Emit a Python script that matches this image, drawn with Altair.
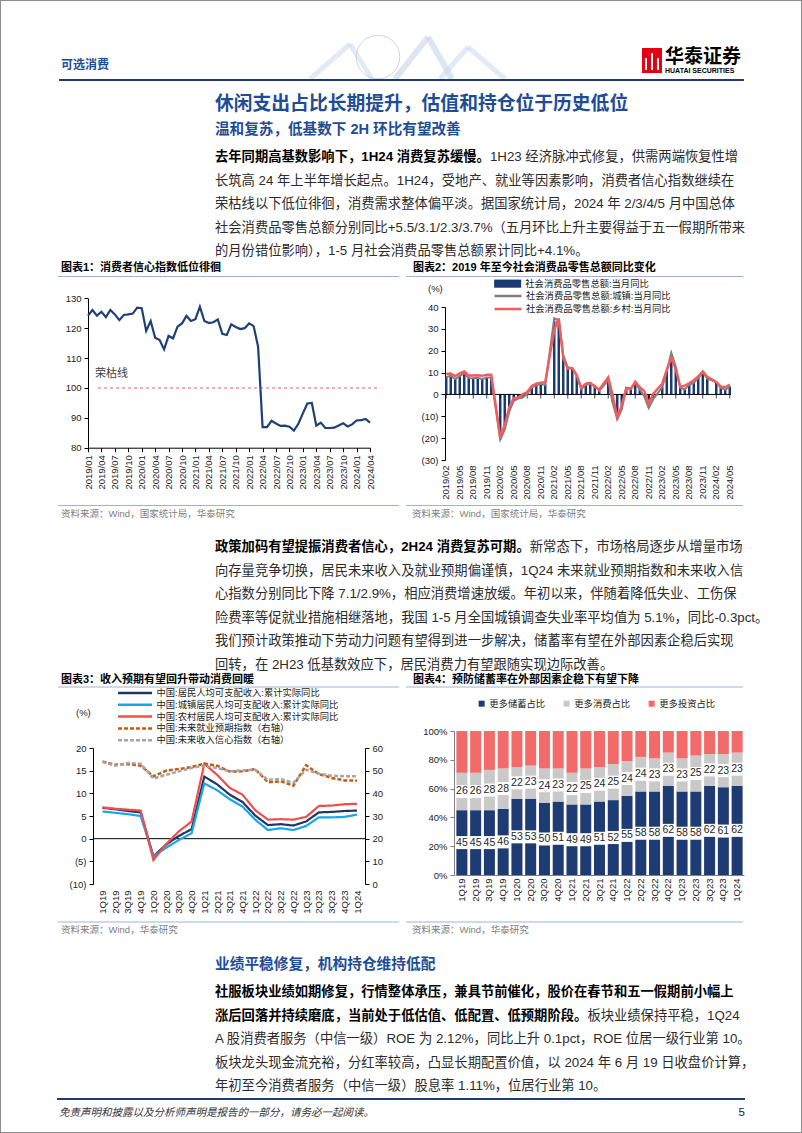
import altair as alt
import pandas as pd

W, H = 802, 1133
FONT = "Liberation Sans, Noto Sans CJK SC, sans-serif"
BLUE_T = "#1E4C96"
NAVY_RULE = "#1F3C78"
LIGHT_RULE = "#9DB5D3"
TXT = "#2b2b2b"

# ---------------- data ----------------
# Chart 1: consumer confidence index, 2019/01 - 2024/04
cci_months = [f"{y}/{m:02d}" for y in range(2019, 2025) for m in range(1, 13)][:64]
cci_values = [124.2, 126.1, 124.2, 125.5, 123.7, 126.1, 124.6, 122.7, 124.4, 124.6, 124.9, 126.9,
              126.7, 119.1, 122.4, 116.8, 116.0, 112.9, 117.4, 116.6, 120.5, 121.6, 124.1, 122.4,
              123.0, 127.2, 122.4, 121.7, 122.0, 122.9, 118.1, 117.7, 121.3, 120.4, 119.7, 120.0,
              121.6, 120.7, 113.8, 86.9, 86.9, 89.0, 88.1, 87.3, 87.4, 87.0, 85.7, 88.0,
              91.5, 94.8, 95.0, 87.4, 88.4, 86.6, 86.6, 86.7, 87.4, 88.2, 87.1, 87.8,
              89.1, 89.2, 89.6, 88.4]

# Chart 2: retail sales yoy, 2019/02 - 2024/05 (January not published)
ret_months = [f"{y}/{m:02d}" for y in range(2019, 2025) for m in range(1, 13)][1:65]
ret_total = [8.2, 8.7, 7.2, 8.6, 9.8, 7.6, 7.5, 7.8, 7.2, 8.0, 8.0,
             None, -20.5, -15.8, -7.5, -2.8, -1.8, -1.1, 0.5, 3.3, 4.3, 5.0, 4.6,
             None, 33.8, 34.2, 17.7, 12.4, 12.1, 8.5, 2.5, 4.4, 4.9, 3.9, 1.7,
             None, 6.7, -3.5, -11.1, -6.7, 3.1, 2.7, 5.4, 2.5, -0.5, -5.9, -1.8,
             None, 3.5, 10.6, 18.4, 12.7, 3.1, 2.5, 4.6, 5.5, 7.6, 10.1, 7.4,
             None, 5.5, 3.1, 2.3, 3.7]
ret_urban = [8.0, 8.5, 7.0, 8.4, 9.7, 7.5, 7.4, 7.6, 7.0, 7.8, 7.8,
             None, -20.7, -16.1, -7.8, -3.0, -1.9, -1.4, 0.3, 3.2, 4.2, 4.9, 4.3,
             None, 34.9, 33.9, 17.9, 12.5, 12.0, 8.4, 2.4, 4.4, 4.8, 4.0, 1.6,
             None, 6.5, -4.0, -11.3, -7.0, 3.1, 2.8, 5.1, 2.3, -0.9, -6.2, -2.2,
             None, 3.3, 10.5, 19.1, 12.8, 3.1, 2.3, 4.5, 5.3, 7.5, 10.0, 7.3,
             None, 5.5, 3.0, 2.2, 3.4]
ret_rural = [9.3, 9.6, 8.4, 9.6, 10.5, 8.7, 8.7, 8.8, 8.5, 9.0, 9.0,
             None, -19.5, -14.0, -5.9, -1.7, -1.5, 0.1, 1.1, 3.9, 4.9, 5.4, 5.6,
             None, 29.5, 34.8, 16.6, 11.8, 12.1, 8.8, 3.0, 4.9, 5.3, 3.5, 2.3,
             None, 7.8, -0.6, -10.5, -5.0, 2.8, 2.4, 5.8, 3.3, 1.5, -4.2, 0.3,
             None, 4.9, 11.2, 16.8, 11.5, 3.4, 4.0, 5.1, 6.5, 8.2, 10.5, 8.1,
             None, 5.7, 3.6, 3.3, 4.5]

# Chart 3: income growth & expectation indices, 1Q19 - 1Q24
quarters = [f"{q}Q{y}" for y in range(19, 25) for q in range(1, 5)][:21]
inc_all = [6.8, 6.5, 6.1, 5.8, -3.9, -1.3, 0.6, 2.1, 13.7, 12.0, 9.7, 8.1, 5.1, 3.0, 3.2, 2.9, 3.8, 5.8, 5.9, 6.1, 6.2]
inc_urban = [6.0, 5.7, 5.4, 5.0, -3.9, -2.0, -0.3, 1.2, 12.2, 10.7, 8.7, 7.1, 4.2, 1.9, 2.3, 1.9, 2.8, 4.7, 4.7, 4.8, 5.3]
inc_rural = [6.9, 6.6, 6.4, 6.2, -4.7, -1.2, 1.6, 3.8, 16.5, 14.1, 11.2, 9.7, 6.3, 4.2, 4.3, 4.2, 4.8, 7.2, 7.3, 7.6, 7.7]
job_exp = [54.1, 52.6, 52.9, 52.2, 47.5, 50.0, 50.7, 51.6, 53.1, 52.2, 49.6, 49.7, 50.7, 44.9, 45.3, 43.4, 52.4, 48.5, 46.8, 45.7, 45.6]
inc_conf = [53.8, 52.2, 53.4, 53.1, 46.5, 48.2, 49.7, 51.2, 52.2, 51.2, 49.7, 50.1, 50.4, 46.0, 46.3, 44.6, 50.4, 48.7, 47.8, 47.5, 47.5]

# Chart 4: saving / consumption / investment preference shares
save_share = [45, 45, 45, 46, 53, 53, 50, 51, 49, 49, 51, 52, 55, 58, 58, 62, 58, 58, 62, 61, 62]
consume_share = [26, 26, 28, 28, 22, 23, 24, 23, 22, 25, 24, 25, 24, 24, 23, 23, 23, 25, 22, 23, 23]
invest_share = [29, 29, 27, 26, 25, 24, 26, 26, 29, 26, 25, 23, 21, 18, 19, 15, 19, 17, 16, 16, 15]

# ---------------- helpers ----------------
def tw(s, size, bold=False):
    w = 0.0
    for ch in s:
        o = ord(ch)
        if o >= 0x2E80:
            w += 1.0
        elif ch == ' ':
            w += 0.278
        elif ch.isdigit():
            w += 0.556
        elif ch in './:,;':
            w += 0.333 if bold else 0.278
        elif ch == '-':
            w += 0.333
        elif ch == '%':
            w += 0.889
        elif ch == '+':
            w += 0.584
        elif ch.isupper():
            w += 0.722 if bold else 0.667
        else:
            w += 0.611 if bold else 0.556
    return w * size


def text_layer(s, x, y, size, color=TXT, weight='normal', align='left', style='normal', baseline='middle'):
    return alt.Chart(pd.DataFrame({'t': [s]})).mark_text(
        align=align, baseline=baseline, font=FONT, fontSize=size, fontWeight=weight,
        fontStyle=style, color=color).encode(x=alt.value(x), y=alt.value(y), text='t:N')


def hrule(x1, x2, y, color, width=1.0):
    return alt.Chart(pd.DataFrame({'a': [0]})).mark_rule(color=color, strokeWidth=width).encode(
        x=alt.value(x1), x2=alt.value(x2), y=alt.value(y))


def seg(x1, y1, x2, y2, color, width=1.0, opacity=1.0):
    return alt.Chart(pd.DataFrame({'a': [0]})).mark_rule(color=color, strokeWidth=width, opacity=opacity).encode(
        x=alt.value(x1), x2=alt.value(x2), y=alt.value(y1), y2=alt.value(y2))


def box(x1, x2, y1, y2, color):
    return alt.Chart(pd.DataFrame({'a': [0]})).mark_rect(color=color).encode(
        x=alt.value(x1), x2=alt.value(x2), y=alt.value(y1), y2=alt.value(y2))


def paragraph(lines, x, y0, step, size):
    out = []
    for i, segs in enumerate(lines):
        y = y0 + i * step
        cx = x
        for s, bold in segs:
            out.append(text_layer(s, cx, y, size, color='#000' if bold else TXT,
                                  weight='bold' if bold else 'normal'))
            cx += tw(s, size, bold)
    return out


def ax(**kw):
    base = dict(title=None, grid=False, labelFont=FONT, labelFontSize=9.5, labelColor='#1a1a1a',
                domainColor='#000', tickColor='#000', tickSize=4, labelPadding=3,
                labelOverlap=False, labelFlush=False)
    base.update(kw)
    return alt.Axis(**base)


NEG = "datum.value < 0 ? '(' + abs(datum.value) + ')' : datum.value"

# ---------------- chart 1 ----------------
d1 = pd.DataFrame({'m': cci_months, 'v': cci_values})
X1 = alt.X('m:N', sort=None,
           scale=alt.Scale(type='point', domain=cci_months, range=[88, 370], padding=0),
           axis=ax(orient='bottom', offset=447.7 - H, values=cci_months[::3], labelAngle=270))
Y1 = alt.Y('v:Q', scale=alt.Scale(domain=[80, 130], range=[447.7, 298.3], nice=False, zero=False),
           axis=ax(orient='left', offset=-88, values=[80, 90, 100, 110, 120, 130]))
c1_ref = alt.Chart(pd.DataFrame({'v': [100]})).mark_rule(color='#E06666', strokeDash=[3, 3], strokeWidth=1).encode(
    y=Y1, x=alt.value(98), x2=alt.value(378))
c1_line = alt.Chart(d1).mark_line(color='#1F3F77', strokeWidth=2.2).encode(x=X1, y=Y1)
chart1 = alt.layer(c1_ref, c1_line)

# ---------------- chart 2 ----------------
S_TOT = '社会消费品零售总额:当月同比'
S_URB = '社会消费品零售总额:城镇:当月同比'
S_RUR = '社会消费品零售总额:乡村:当月同比'
bar_df = pd.DataFrame({'m': ret_months, 'v': ret_total, 's': S_TOT}).dropna()
urb_df = pd.DataFrame({'m': ret_months, 'v': ret_urban, 's': S_URB}).dropna()
rur_df = pd.DataFrame({'m': ret_months, 'v': ret_rural, 's': S_RUR}).dropna()
X2 = alt.X('m:N', sort=None,
           scale=alt.Scale(type='band', domain=ret_months, range=[445, 731], paddingInner=0.45, paddingOuter=0),
           axis=ax(orient='bottom', offset=462 - H, values=ret_months[::3], labelAngle=270,
                   domain=False, ticks=False))
Y2 = alt.Y('v:Q', scale=alt.Scale(domain=[-30, 40], range=[460, 307], nice=False, zero=False),
           axis=ax(orient='left', offset=-445, values=list(range(-30, 41, 10)), labelExpr=NEG))
leg_common = dict(orient='none', title=None, labelFont=FONT, labelFontSize=9.3, labelColor='#1a1a1a',
                  labelLimit=400, padding=0)
leg2a = alt.Legend(legendX=503, legendY=279, symbolType='M-4,-1.2H4V1.2H-4Z', symbolSize=45.6,
                   labelOffset=13, symbolStrokeWidth=0, **leg_common)
leg2b = alt.Legend(legendX=503, legendY=291, symbolType='M-4,0H4', symbolSize=45.6,
                   symbolStrokeWidth=2.5, labelOffset=13, rowPadding=2, **leg_common)
stroke2 = alt.Scale(domain=[S_URB, S_RUR], range=['#7F7F7F', '#F25C5E'])
c2_bar = alt.Chart(bar_df).mark_bar().encode(
    x=X2, y=Y2, y2=alt.datum(0),
    fill=alt.Fill('s:N', scale=alt.Scale(domain=[S_TOT], range=['#1B3A72']), legend=leg2a))
c2_zero = alt.Chart(pd.DataFrame({'v': [0]})).mark_rule(color='#000', strokeWidth=1).encode(
    y=Y2, x=alt.value(445), x2=alt.value(731))
c2_ticks = alt.Chart(pd.DataFrame({'m': ret_months[::3], 'v': [0] * len(ret_months[::3])})).mark_tick(
    orient='vertical', size=4, thickness=1, color='#000', yOffset=2).encode(x=X2, y=Y2)
c2_urb = alt.Chart(urb_df).mark_line(strokeWidth=2).encode(
    x=X2, y=Y2, stroke=alt.Stroke('s:N', scale=stroke2, legend=leg2b))
c2_rur = alt.Chart(rur_df).mark_line(strokeWidth=2.5).encode(
    x=X2, y=Y2, stroke=alt.Stroke('s:N', scale=stroke2, legend=leg2b))
chart2 = alt.layer(c2_bar, c2_zero, c2_ticks, c2_urb, c2_rur)

# ---------------- chart 3 ----------------
S3 = ['中国:居民人均可支配收入:累计实际同比', '中国:城镇居民人均可支配收入:累计实际同比',
      '中国:农村居民人均可支配收入:累计实际同比', '中国:未来就业预期指数（右轴）', '中国:未来收入信心指数（右轴）']
left_df = pd.concat([pd.DataFrame({'q': quarters, 'v': arr, 's': nm})
                     for nm, arr in zip(S3[:3], [inc_all, inc_urban, inc_rural])])
right_df = pd.concat([pd.DataFrame({'q': quarters, 'v': arr, 's': nm})
                      for nm, arr in zip(S3[3:], [job_exp, inc_conf])])
col3 = alt.Scale(domain=S3, range=['#1F3864', '#1CA3EC', '#F24D4D', '#C55A11', '#A6A6A6'])
dash3 = alt.Scale(domain=S3, range=[[1, 0], [1, 0], [1, 0], [4, 2], [4, 2]])
leg3 = alt.Legend(legendX=130, legendY=688, symbolType='M-5,0H5', symbolSize=46.2, symbolStrokeWidth=2.5,
                  labelOffset=16.5, rowPadding=0.8, **leg_common)
X3 = alt.X('q:N', sort=None,
           scale=alt.Scale(type='point', domain=quarters, range=[102.5, 357], padding=0),
           axis=ax(orient='bottom', offset=884 - H, labelAngle=270, domain=False, ticks=False, labelPadding=6))
Y3L = alt.Y('v:Q', scale=alt.Scale(domain=[-10, 20], range=[884, 748], nice=False, zero=False),
            axis=ax(orient='left', offset=-93, values=[-10, -5, 0, 5, 10, 15, 20], labelExpr=NEG))
Y3R = alt.Y('v:Q', scale=alt.Scale(domain=[0, 60], range=[884, 748], nice=False, zero=False),
            axis=ax(orient='right', offset=365 - W, values=[0, 10, 20, 30, 40, 50, 60]))
enc3 = dict(color=alt.Color('s:N', scale=col3, legend=leg3),
            strokeDash=alt.StrokeDash('s:N', scale=dash3, legend=leg3))
c3_zero = alt.Chart(pd.DataFrame({'v': [0]})).mark_rule(color='#000', strokeWidth=1).encode(
    y=Y3L, x=alt.value(93), x2=alt.value(365))
c3_left = alt.Chart(left_df).mark_line(strokeWidth=2.2).encode(x=X3, y=Y3L, **enc3)
c3_right = alt.Chart(right_df).mark_line(strokeWidth=2.5).encode(x=X3, y=Y3R, **enc3)
chart3 = alt.layer(alt.layer(c3_zero, c3_left), c3_right).resolve_scale(y='independent')

# ---------------- chart 4 ----------------
S4 = ['更多储蓄占比', '更多消费占比', '更多投资占比']
d4 = pd.concat([pd.DataFrame({'q': quarters, 'v': arr, 'c': nm, 'o': i})
                for i, (nm, arr) in enumerate(zip(S4, [save_share, consume_share, invest_share]))])
X4 = alt.X('q:N', sort=None,
           scale=alt.Scale(type='band', domain=quarters, range=[455, 744], paddingInner=0.2, paddingOuter=0.1),
           axis=ax(orient='bottom', offset=875 - H, labelAngle=270, ticks=False, domainColor='#808080'))
ax4y = ax(orient='left', offset=-454, values=[0, 20, 40, 60, 80, 100], labelExpr="datum.value + '%'",
          domainColor='#808080', tickColor='#808080')
sc4y = alt.Scale(domain=[0, 100], range=[875, 731], nice=False, zero=False)
leg4 = alt.Legend(legendX=477, legendY=699, direction='horizontal', symbolType='square', symbolSize=36,
                  labelOffset=3, columnPadding=16, **leg_common)
base4 = alt.Chart(d4).transform_stack(stack='v', groupby=['q'], as_=['v0', 'v1'], sort=[alt.SortField('o')])
c4_bar = base4.mark_bar().encode(
    x=X4, y=alt.Y('v0:Q', scale=sc4y, axis=ax4y), y2='v1:Q',
    fill=alt.Fill('c:N', scale=alt.Scale(domain=S4, range=['#1F3B73', '#C9C9C9', '#F26A6A']), legend=leg4))
lab4 = base4.transform_filter('datum.o < 2').transform_calculate(mid='(datum.v0 + datum.v1) / 2')
c4_box = lab4.mark_square(size=169, color='white', opacity=1).encode(
    x=X4, y=alt.Y('mid:Q', scale=sc4y, axis=ax4y))
c4_txt = lab4.mark_text(font=FONT, fontSize=10.5, color='#262626').encode(
    x=X4, y=alt.Y('mid:Q', scale=sc4y, axis=ax4y), text='v:Q')
chart4 = alt.layer(c4_bar, c4_box, c4_txt)

# ---------------- page text ----------------
P1 = [
    [("去年同期高基数影响下，1H24 消费复苏缓慢。", True), ("1H23 经济脉冲式修复，供需两端恢复性增", False)],
    [("长筑高 24 年上半年增长起点。1H24，受地产、就业等因素影响，消费者信心指数继续在", False)],
    [("荣枯线以下低位徘徊，消费需求整体偏平淡。据国家统计局，2024 年 2/3/4/5 月中国总体", False)],
    [("社会消费品零售总额分别同比+5.5/3.1/2.3/3.7%（五月环比上升主要得益于五一假期所带来", False)],
    [("的月份错位影响），1-5 月社会消费品零售总额累计同比+4.1%。", False)],
]
P2 = [
    [("政策加码有望提振消费者信心，2H24 消费复苏可期。", True), ("新常态下，市场格局逐步从增量市场", False)],
    [("向存量竞争切换，居民未来收入及就业预期偏谨慎，1Q24 未来就业预期指数和未来收入信", False)],
    [("心指数分别同比下降 7.1/2.9%，相应消费增速放缓。年初以来，伴随着降低失业、工伤保", False)],
    [("险费率等促就业措施相继落地，我国 1-5 月全国城镇调查失业率平均值为 5.1%，同比-0.3pct。", False)],
    [("我们预计政策推动下劳动力问题有望得到进一步解决，储蓄率有望在外部因素企稳后实现", False)],
    [("回转，在 2H23 低基数效应下，居民消费力有望跟随实现边际改善。", False)],
]
P3 = [
    [("社服板块业绩如期修复，行情整体承压，兼具节前催化，股价在春节和五一假期前小幅上", True)],
    [("涨后回落并持续磨底，当前处于低估值、低配置、低预期阶段。", True), ("板块业绩保持平稳，1Q24", False)],
    [("A 股消费者服务（中信一级）ROE 为 2.12%，同比上升 0.1pct，ROE 位居一级行业第 10。", False)],
    [("板块龙头现金流充裕，分红率较高，凸显长期配置价值，以 2024 年 6 月 19 日收盘价计算，", False)],
    [("年初至今消费者服务（中信一级）股息率 1.11%，位居行业第 10。", False)],
]

BODY = 13.3
STEP = 23.5
WM = '#C9D8EC'
watermark = [
    seg(310, 79, 350, 44, WM, 5, 0.55), seg(350, 44, 372, 79, WM, 5, 0.55),
    seg(395, 79, 428, 37, WM, 6, 0.65), seg(428, 37, 452, 79, WM, 6, 0.65),
    seg(440, 79, 468, 47, WM, 5, 0.55), seg(468, 47, 505, 79, WM, 5, 0.55),
    alt.Chart(pd.DataFrame({'a': [0]})).mark_point(shape='circle', size=1900, filled=False,
                                                     color='#C8CCD4', strokeWidth=1, opacity=0.8).encode(
        x=alt.value(378), y=alt.value(57)),
]
deco = watermark + [
    text_layer("可选消费", 61, 65, 12, color=BLUE_T, weight='bold'),
    box(642, 662, 48, 73, '#E60012'),
    box(645, 647, 58, 70, '#ffffff'), box(651, 653, 53, 70, '#ffffff'), box(657, 659, 58, 70, '#ffffff'),
    text_layer("华泰证券", 665, 57, 19, color='#000', weight='bold'),
    text_layer("HUATAI SECURITIES", 665, 70.5, 7, color='#000', weight='bold'),
    hrule(59, 744, 80, NAVY_RULE, 2),
    text_layer("休闲支出占比长期提升，估值和持仓位于历史低位", 215, 104, 18.8, color=BLUE_T, weight='bold'),
    text_layer("温和复苏，低基数下 2H 环比有望改善", 215, 130, 14.6, color=BLUE_T, weight='bold'),
    # chart frames
    text_layer("图表1：消费者信心指数低位徘徊", 61, 268, 11, color='#000', weight='bold'),
    text_layer("图表2：2019 年至今社会消费品零售总额同比变化", 413, 268, 11, color='#000', weight='bold'),
    hrule(58, 399, 276.5, LIGHT_RULE, 1), hrule(406, 743, 276.5, LIGHT_RULE, 1),
    hrule(58, 399, 505.5, LIGHT_RULE, 1), hrule(406, 743, 505.5, LIGHT_RULE, 1),
    text_layer("资料来源：Wind，国家统计局，华泰研究", 61, 514, 9.5, color='#808080'),
    text_layer("资料来源：Wind，国家统计局，华泰研究", 412, 514, 9.5, color='#808080'),
    text_layer("荣枯线", 95, 374, 11, color='#404040'),
    text_layer("(%)", 428, 289, 9.5, color='#1a1a1a'),
    text_layer("图表3：收入预期有望回升带动消费回暖", 61, 680, 11, color='#000', weight='bold'),
    text_layer("图表4：预防储蓄率在外部因素企稳下有望下降", 413, 680, 11, color='#000', weight='bold'),
    hrule(58, 399, 687, LIGHT_RULE, 1), hrule(406, 743, 687, LIGHT_RULE, 1),
    hrule(58, 399, 922, LIGHT_RULE, 1), hrule(406, 743, 922, LIGHT_RULE, 1),
    text_layer("资料来源：Wind，华泰研究", 61, 930, 9.5, color='#808080'),
    text_layer("资料来源：Wind，华泰研究", 412, 930, 9.5, color='#808080'),
    text_layer("(%)", 76, 713, 9.5, color='#1a1a1a'),
    text_layer("业绩平稳修复，机构持仓维持低配", 215, 965, 14.7, color=BLUE_T, weight='bold'),
    hrule(57, 745, 1099, NAVY_RULE, 2),
    text_layer("免责声明和披露以及分析师声明是报告的一部分，请务必一起阅读。", 59, 1113, 10.5,
               color='#333333', style='italic'),
    text_layer("5", 745, 1113, 11.5, color='#1a1a1a', align='right'),
]
paras = (paragraph(P1, 215, 157, STEP, BODY) + paragraph(P2, 215, 547, STEP, BODY)
         + paragraph(P3, 215, 992, STEP, BODY))

chart = alt.layer(*deco, *paras, chart1, chart2, chart3, chart4).resolve_scale(
    x='independent', y='independent', color='independent', fill='independent',
    stroke='independent', strokeDash='independent'
).properties(
    width=W, height=H, padding=0, autosize=alt.AutoSizeParams(type='none')
).configure_view(stroke='#8C8C8C', strokeWidth=2)

chart.save("out.html", embed_options={"renderer": "svg", "actions": False})
